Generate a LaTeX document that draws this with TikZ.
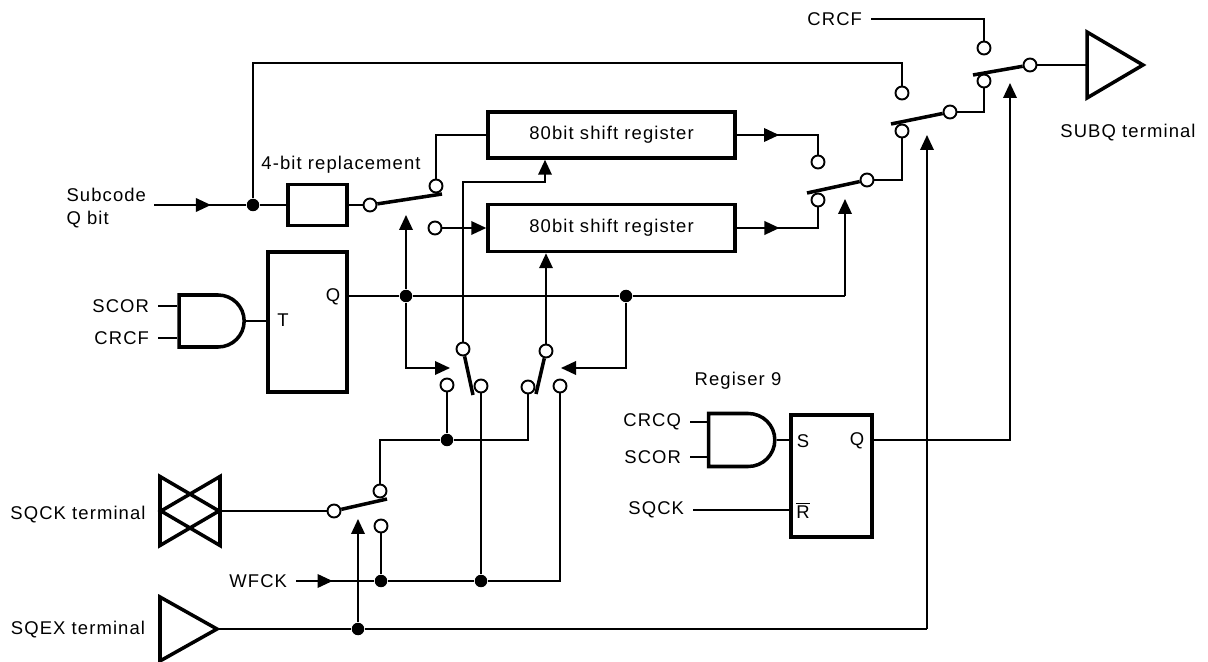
\documentclass[tikz,border=0pt]{standalone}
\usepackage{fontspec}
\setmainfont[LetterSpace=6]{Liberation Sans}
\usetikzlibrary{arrows.meta,decorations.markings,shapes.geometric,shapes.gates.logic.US}
\tikzset{
  wire/.style={line width=1.1pt},
  block/.style={draw, line width=2pt},
  blade/.style={line width=2pt},
  lbl/.style={font=\fontsize{10.5}{13}\selectfont, inner sep=0pt},
  sig/.style={lbl, inner xsep=0.16cm, anchor=east},
  contact/.style={draw, circle, wire, fill=white, minimum size=0.26cm, inner sep=0pt},
  junct/.style={circle, fill=black, minimum size=0.25cm, inner sep=0pt},
  buf/.style={block, isosceles triangle, isosceles triangle stretches, inner sep=0pt, outer sep=0pt, anchor=lower side},
  andg/.style={block, and gate US, logic gate inputs=nn, logic gate input sep=0.3cm, inner sep=0pt},
  midarrow/.style={postaction={decorate}, decoration={markings, mark=at position #1 with {\arrow{>}}}}
}
\begin{document}
\begin{tikzpicture}[x=0.02cm, y=-0.02cm, >={Triangle[length=0.3cm, width=0.27cm]}, wire]
  \useasboundingbox (0,0) rectangle (1208,662);

  % registers and boxes
  \node[block, lbl, minimum width=4.94cm, minimum height=0.92cm] (SRA) at (611.5,135) {80bit shift register};
  \node[block, lbl, minimum width=4.94cm, minimum height=0.94cm] (SRB) at (611.5,228) {80bit shift register};
  \node[block, minimum width=1.18cm, minimum height=0.82cm] (REP) at (317.5,205) {};
  \node[lbl] (REPL) at (341,165) {4-bit replacement};
  \node[block, minimum width=1.58cm, minimum height=2.8cm] (TFF) at (307.5,322) {};
  \node[lbl] (TFFT) at (283,320) {T};
  \node[lbl] (TFFQ) at (333,297) {Q};
  \node[block, minimum width=1.62cm, minimum height=2.44cm] (SFF) at (831.5,476) {};
  \node[lbl] (SFFS) at (803,441) {S};
  \node[lbl] (SFFQ) at (857,441) {Q};
  \node[lbl] (SFFR) at (803,510) {$\overline{\mbox{R}}$};
  \node[lbl] (REGL) at (738,381) {Regiser 9};

  % gates
  \node[andg, minimum width=1.3cm, minimum height=1.04cm] (ANDA) at (209.5,321) {};
  \node[andg, minimum width=1.32cm, minimum height=1.06cm] (ANDB) at (739.5,440) {};
  \node[sig] (SCORA) at (158,306) {SCOR};
  \node[sig] (CRCFA) at (158,338) {CRCF};
  \node[sig] (CRCQB) at (690,422) {CRCQ};
  \node[sig] (SCORB) at (690,457) {SCOR};
  \node[sig] (SQCKB) at (693,510) {SQCK};
  \node[sig] (CRCFT) at (871,19) {CRCF};
  \node[sig] (WFCK) at (296,581) {WFCK};
  \node[sig, inner xsep=0.14cm, align=left] (SUBC) at (154,208) {Subcode\\Q bit};

  % terminals
  \node[buf, minimum width=1.32cm, minimum height=1.12cm] (SUBQ) at (1087,65) {};
  \node[lbl] (SUBQL) at (1128,133) {SUBQ terminal};
  \node[buf, minimum width=1.38cm, minimum height=1.18cm] (SQCKR) at (160,511) {};
  \node[buf, minimum width=1.38cm, minimum height=1.18cm, shape border rotate=180] (SQCKL) at (220,511) {};
  \node[lbl] (SQCKT) at (78,515) {SQCK terminal};
  \node[buf, minimum width=1.28cm, minimum height=1.14cm] (SQEX) at (160,629) {};
  \node[lbl] (SQEXT) at (78,630) {SQEX terminal};

  % switch contacts
  \node[contact] (XA) at (984,48) {};
  \node[contact] (XB) at (984,81) {};
  \node[contact] (XP) at (1030,65) {};
  \node[contact] (YA) at (902,93) {};
  \node[contact] (YB) at (902,131) {};
  \node[contact] (YP) at (950,112) {};
  \node[contact] (ZA) at (818,162) {};
  \node[contact] (ZB) at (818,200) {};
  \node[contact] (ZP) at (867,180) {};
  \node[contact] (RA) at (436,186) {};
  \node[contact] (RB) at (435,228) {};
  \node[contact] (RP) at (370,205) {};
  \node[contact] (LA) at (447,385) {};
  \node[contact] (LB) at (481,386) {};
  \node[contact] (LP) at (463,349) {};
  \node[contact] (MA) at (528,387) {};
  \node[contact] (MB) at (560,386) {};
  \node[contact] (MP) at (546,351) {};
  \node[contact] (KA) at (380,491) {};
  \node[contact] (KB) at (381,526) {};
  \node[contact] (KP) at (334,511) {};

  % dots and free ends
  \node[junct] (JS) at (253,205) {};
  \node[junct] (QA) at (406,296) {};
  \node[junct] (QB) at (626,296) {};
  \node[junct] (JA) at (447,440) {};
  \node[junct] (JK) at (381,581) {};
  \node[junct] (JB) at (481,581) {};
  \node[junct] (JE) at (358,629) {};
  \coordinate (TOPL) at (253,63);
  \coordinate (TOPR) at (902,63);
  \coordinate (QOUT) at (347,296);
  \coordinate (QEND) at (845,296);
  \coordinate (TIPZ) at (845,199);
  \coordinate (TIPQ) at (406,215);
  \coordinate (TIPL) at (450,368);
  \coordinate (TIPM) at (561,368);
  \coordinate (TIPK) at (358,519);
  \coordinate (EEND) at (927,629);
  \coordinate (TIPY) at (927,135);
  \coordinate (SOUT) at (872,440);
  \coordinate (SEND) at (1010,440);
  \coordinate (TIPX) at (1010,83);
  \coordinate (LUP) at (545,182);

  % switch blades
  \coordinate (XE) at (973,75);
  \coordinate (YE) at (891,124);
  \coordinate (ZE) at (807,193);
  \coordinate (RE) at (442,194);
  \coordinate (LE) at (473,395);
  \coordinate (ME) at (536,394);
  \coordinate (KE) at (387,499);
  \draw[blade] (XP) -- (XE);
  \draw[blade] (YP) -- (YE);
  \draw[blade] (ZP) -- (ZE);
  \draw[blade] (RP) -- (RE);
  \draw[blade] (LP) -- (LE);
  \draw[blade] (MP) -- (ME);
  \draw[blade] (KP) -- (KE);

  % top path
  \draw (CRCFT) -| (XA);
  \draw (XP) -- (SUBQ.lower side);
  \draw (YP) -| (XB);
  \draw (ZP) -| (YB);
  \draw (JS) -- (TOPL) -- (TOPR) -- (YA);
  \draw[midarrow=0.62] (SUBC.east |- JS) -- (JS);
  \draw (JS) -- (REP);
  \draw (REP) -- (RP);
  \draw (RA) |- (SRA);
  \draw[->] (RB) -- (SRB);
  \draw[midarrow=0.42] (SRA) -| (ZA);
  \draw[midarrow=0.42] (SRB) -| (ZB);

  % gates to flip-flops
  \draw (SCORA) -- (ANDA.west |- SCORA);
  \draw (CRCFA) -- (ANDA.west |- CRCFA);
  \draw (ANDA.output) -- (TFF.west |- ANDA.output);
  \draw (CRCQB) -- (ANDB.west |- CRCQB);
  \draw (SCORB) -- (ANDB.west |- SCORB);
  \draw (ANDB.output) -- (SFF.west |- ANDB.output);
  \draw (SQCKB) -- (SFF.west |- SQCKB);

  % control lines
  \draw (QOUT) -- (QA) -- (QB) -- (QEND);
  \draw[->] (QEND) -- (TIPZ);
  \draw[->] (QA) -- (TIPQ);
  \draw[->] (QA) |- (TIPL);
  \draw[->] (QB) |- (TIPM);
  \draw[->] (LP) |- (LUP) -- (LUP |- SRA.south);
  \draw[->] (MP) -- (MP |- SRB.south);
  \draw[->] (SOUT) -- (SEND) -- (TIPX);

  % clock lines
  \draw (KP) -- (SQCKR.apex);
  \draw (KA) |- (JA);
  \draw (JA) -| (MA);
  \draw (LA) -- (JA);
  \draw (LB) -- (JB);
  \draw (JB) -| (MB);
  \draw[midarrow=0.47] (WFCK) -- (JK);
  \draw (JK) -- (JB);
  \draw (JK) -- (KB);
  \draw (SQEX.apex) -- (JE) -- (EEND);
  \draw[->] (EEND) -- (TIPY);
  \draw[->] (JE) -- (TIPK);
\end{tikzpicture}
\end{document}
